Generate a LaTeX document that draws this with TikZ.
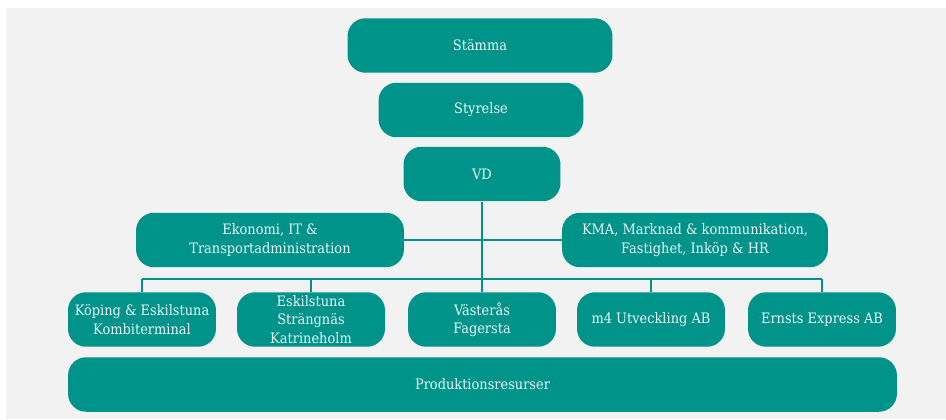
\documentclass[tikz,border=0pt]{standalone}
\usepackage{fontspec}
\setmainfont{DejaVu Serif Condensed}
\definecolor{boxteal}{HTML}{00938A}
\definecolor{bggray}{HTML}{F2F2F2}

\begin{document}
\begin{tikzpicture}[x=0.02cm, y=-0.02cm,
	orgbox/.style={fill=boxteal, rounded corners=0.36cm, text=white!92!boxteal, align=center, inner sep=0pt,
		font=\fontsize{8.2}{10.4}\selectfont, minimum height=1.09cm},
	link/.style={draw=boxteal, line width=1pt}]
	\useasboundingbox (0, 0) rectangle (946, 419);
	\fill[bggray] (6, 8) rectangle (946, 419);
	
	% top of the chain
	\node[orgbox, minimum width=5.3cm] (stamma) at (480, 45.5) {Stämma};
	\node[orgbox, minimum width=4.1cm] (styrelse) at (481, 110) {Styrelse};
	\node[orgbox, minimum width=3.14cm] (vd) at (482, 174) {VD};
	
	% staff functions
	\node[orgbox, minimum width=5.36cm] (ekonomi) at (270, 240) {Ekonomi, IT \&\\Transportadministration};
	\node[orgbox, minimum width=5.32cm] (kma) at (695, 240) {KMA, Marknad \& kommunikation,\\Fastighet, Inköp \& HR};
	
	% units
	\node[orgbox, minimum width=2.96cm] (koping) at (142, 319.5) {Köping \& Eskilstuna\\Kombiterminal};
	\node[orgbox, minimum width=2.96cm] (eskilstuna) at (311, 319.5) {Eskilstuna\\Strängnäs\\Katrineholm};
	\node[orgbox, minimum width=2.96cm] (vasteras) at (482, 319.5) {Västerås\\Fagersta};
	\node[orgbox, minimum width=2.96cm] (utveckling) at (651, 319.5) {m4 Utveckling AB};
	\node[orgbox, minimum width=2.96cm] (ernsts) at (822, 319.5) {Ernsts Express AB};
	
	\node[orgbox, minimum width=16.58cm] (prod) at (482.5, 384.5) {Produktionsresurser};
	
	% connectors
	\coordinate (busL) at (142, 279);
	\coordinate (busR) at (822, 279);
	\draw[link] (vd.south) -- (vasteras.north);
	\draw[link] (ekonomi.east) -- (kma.west);
	\draw[link] (busL) -- (busR);
	\foreach \unit in {koping, eskilstuna, utveckling, ernsts}
	\draw[link] (\unit.north) -- (\unit.north |- busL);
\end{tikzpicture}
\end{document}
